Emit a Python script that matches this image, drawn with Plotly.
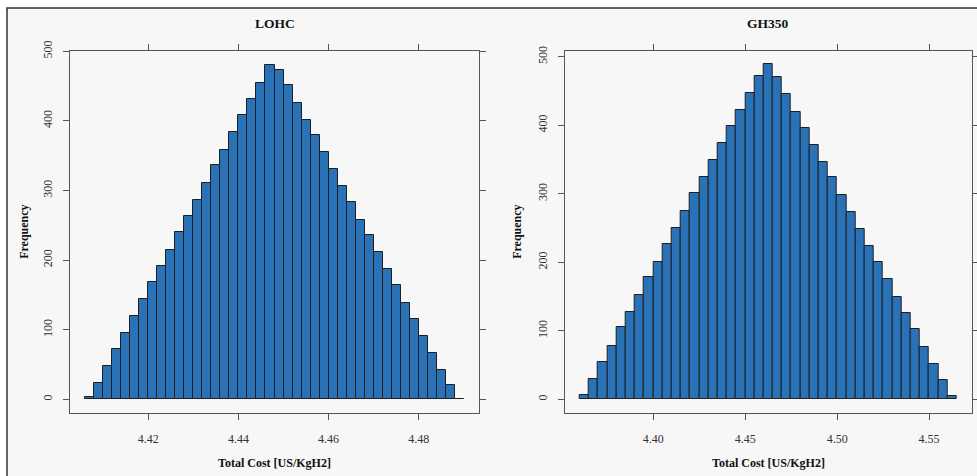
import plotly.graph_objects as go

# ---------------- data ----------------
lohc_bin_start = 4.406
lohc_bin_width = 0.002
lohc_counts = [3, 24, 48, 72, 96, 120, 144, 168, 191, 215, 240, 264, 287, 311,
               336, 358, 384, 409, 431, 454, 480, 473, 452, 426, 402, 380, 355,
               331, 307, 283, 258, 236, 211, 187, 164, 138, 116, 91, 67, 42, 20, 1]

gh_bin_start = 4.36
gh_bin_width = 0.005
gh_counts = [6, 30, 54, 78, 105, 128, 153, 178, 201, 227, 250, 275, 301, 325,
             349, 374, 399, 423, 447, 472, 489, 471, 446, 420, 396, 372, 346,
             324, 298, 273, 248, 224, 200, 175, 149, 126, 102, 77, 51, 28, 5]

lohc_xticks = [4.42, 4.44, 4.46, 4.48]
gh_xticks = [4.40, 4.45, 4.50, 4.55]
y_ticks = [0, 100, 200, 300, 400, 500]

panel_titles = ["LOHC", "GH350"]
x_title = "Total Cost [US/KgH2]"
y_title = "Frequency"

# ---------------- style ----------------
W, H = 977, 476
FONT = "Liberation Serif"
BAR = "#2a72b8"
EDGE = "#1e1e1e"
AX = "#555555"


def centers(start, width, counts):
    return [start + width * (i + 0.5) for i in range(len(counts))]


def r_range(lo, hi):
    d = (hi - lo) * 0.04
    return [lo - d, hi + d]


fig = go.Figure()

fig.add_trace(go.Bar(
    x=centers(lohc_bin_start, lohc_bin_width, lohc_counts), y=lohc_counts,
    width=lohc_bin_width, marker=dict(color=BAR, line=dict(color=EDGE, width=1)),
    xaxis="x", yaxis="y", showlegend=False, hoverinfo="x+y"))
fig.add_trace(go.Bar(
    x=centers(gh_bin_start, gh_bin_width, gh_counts), y=gh_counts,
    width=gh_bin_width, marker=dict(color=BAR, line=dict(color=EDGE, width=1)),
    xaxis="x2", yaxis="y2", showlegend=False, hoverinfo="x+y"))

# pixel-based domains
ydom = [1 - 412.7 / H, 1 - 51 / H]
xdom1 = [70 / W, 479 / W]
xdom2 = [564.7 / W, 971.7 / W]

tickfont = dict(family=FONT, size=12, color="#333333")
common_x = dict(showgrid=False, zeroline=False, showline=True, linecolor=AX, linewidth=1.2,
                mirror="ticks", ticks="outside", ticklen=6, tickwidth=1.2, tickcolor=AX,
                tickfont=tickfont, tickformat=".2f", ticklabelstandoff=9, fixedrange=True,
                automargin=False)
common_y = dict(showgrid=False, zeroline=False, showline=True, linecolor=AX, linewidth=1.2,
                mirror="ticks", ticks="outside", ticklen=6, tickwidth=1.2, tickcolor=AX,
                tickfont=tickfont, tickangle=-90, tickvals=y_ticks, ticklabelstandoff=6,
                fixedrange=True, automargin=False)

lohc_edges_hi = lohc_bin_start + lohc_bin_width * len(lohc_counts)
gh_edges_hi = gh_bin_start + gh_bin_width * len(gh_counts)

y1_range = r_range(0, max(lohc_counts))
y1_range[1] = max(y1_range[1], 500.4)

fig.update_layout(
    width=W, height=H, autosize=False,
    margin=dict(l=0, r=0, t=0, b=0, pad=0),
    paper_bgcolor="white", plot_bgcolor="white",
    bargap=0,
    xaxis=dict(common_x, domain=xdom1, anchor="y", tickvals=lohc_xticks,
               range=r_range(lohc_bin_start, lohc_edges_hi)),
    yaxis=dict(common_y, domain=ydom, anchor="x", range=y1_range),
    xaxis2=dict(common_x, domain=xdom2, anchor="y2", tickvals=gh_xticks,
                range=r_range(gh_bin_start, gh_edges_hi)),
    yaxis2=dict(common_y, domain=ydom, anchor="x2", range=r_range(0, max(gh_counts))),
    font=dict(family=FONT),
)

# outer frame (light gray panel)
fig.add_shape(type="rect", xref="paper", yref="paper",
              x0=7 / W, x1=1.05, y0=-0.05, y1=1 - 8 / H,
              line=dict(color="#333333", width=1.5), fillcolor="#f7f7f7", layer="below")

anns = []
for dom, title in zip([xdom1, xdom2], panel_titles):
    cx = (dom[0] + dom[1]) / 2
    anns.append(dict(text=f"<b>{title}</b>", x=cx, y=1 - 23 / H, xref="paper", yref="paper",
                     showarrow=False, font=dict(family=FONT, size=13.5, color="#111111"),
                     xanchor="center", yanchor="middle"))
    anns.append(dict(text=f"<b>{x_title}</b>", x=cx, y=1 - 463 / H, xref="paper", yref="paper",
                     showarrow=False, font=dict(family=FONT, size=12, color="#111111"),
                     xanchor="center", yanchor="middle"))
for xp in [24, 517]:
    anns.append(dict(text=f"<b>{y_title}</b>", x=xp / W, y=(ydom[0] + ydom[1]) / 2,
                     xref="paper", yref="paper", showarrow=False, textangle=-90,
                     font=dict(family=FONT, size=12, color="#111111"),
                     xanchor="center", yanchor="middle"))
fig.update_layout(annotations=anns)

fig.write_html(
    "out.html",
    config={"displayModeBar": False, "responsive": False},
    post_script=(
        "document.documentElement.style.margin='0';"
        "document.body.style.margin='0';document.body.style.padding='0';"
        "document.body.style.overflow='hidden';"
        "var gd=document.getElementById('{plot_id}');"
        "gd.style.position='absolute';gd.style.left='0px';gd.style.top='0px';"
    ),
)
